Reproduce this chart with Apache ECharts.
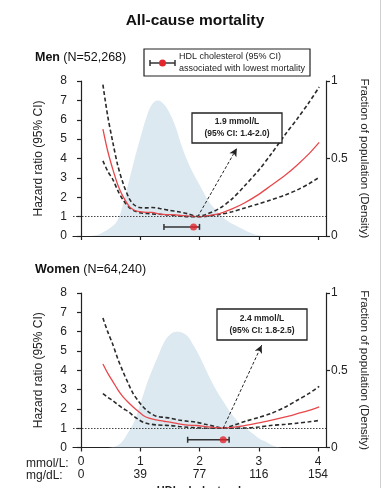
<!DOCTYPE html>
<html>
<head>
<meta charset="utf-8">
<script src="https://cdn.jsdelivr.net/npm/echarts@6/dist/echarts.min.js"></script>
<style>
html,body{margin:0;padding:0;background:#fff;}
#c{width:384px;height:488px;}
</style>
</head>
<body>
<div id="c"></div>
<script>
// ---------- DATA ----------
var mmolTicks = [0, 1, 2, 3, 4];
var mgTicks = ['0', '39', '77', '116', '154'];

// Men
var menX     = [0.37,0.45,0.54,0.62,0.71,0.82,0.9,0.99,1.1,1.2,1.33,1.5,1.65,1.8,1.95,2.1,2.35,2.55,2.75,3.0,3.2,3.45,3.65,3.85,4.02];
var menHR    = [5.52,4.4,3.41,2.65,2.03,1.5,1.33,1.26,1.22,1.22,1.13,1.10,1.07,1.03,1.0,1.03,1.17,1.40,1.69,2.15,2.59,3.15,3.67,4.25,4.83];
var menUpper = [7.81,6.2,4.79,3.65,2.72,1.9,1.6,1.47,1.45,1.47,1.42,1.32,1.25,1.15,1.02,1.10,1.45,1.92,2.55,3.4,4.19,5.25,6.05,6.9,7.69];
var menLower = [3.88,3.35,2.9,2.35,1.86,1.45,1.3,1.2,1.16,1.14,1.12,1.08,1.04,1.0,0.99,1.01,1.12,1.25,1.43,1.66,1.86,2.12,2.38,2.7,3.03];
var menDensX = [0.1,0.2,0.3,0.4,0.5,0.6,0.7,0.8,0.9,1.0,1.1,1.2,1.3,1.4,1.5,1.6,1.7,1.8,1.9,2.0,2.1,2.2,2.3,2.4,2.5,2.6,2.7,2.8,2.9,3.0,3.1];
var menDens  = [0,0.002,0.01,0.03,0.055,0.09,0.19,0.34,0.49,0.63,0.76,0.85,0.875,0.85,0.79,0.70,0.58,0.48,0.40,0.33,0.26,0.20,0.16,0.12,0.09,0.07,0.05,0.03,0.015,0.005,0];
var menOpt = 1.9, menCI = [1.4, 2.0], menDotY = 0.47;
var menArrow = [[1.97, 1.0], [2.63, 4.53]];

// Women
var womenX     = [0.37,0.45,0.54,0.62,0.71,0.8,0.88,0.97,1.05,1.15,1.27,1.4,1.5,1.65,1.8,1.95,2.1,2.25,2.4,2.6,2.8,3.0,3.2,3.45,3.65,3.85,4.02];
var womenHR    = [4.32,3.85,3.40,3.0,2.62,2.33,2.10,1.86,1.66,1.52,1.43,1.36,1.31,1.22,1.16,1.14,1.08,1.03,1.0,1.06,1.16,1.28,1.40,1.58,1.75,1.92,2.10];
var womenUpper = [6.70,6.0,5.31,4.6,3.92,3.3,2.79,2.4,2.10,1.82,1.62,1.56,1.52,1.42,1.36,1.31,1.2,1.1,1.0,1.18,1.38,1.56,1.75,2.1,2.45,2.8,3.17];
var womenLower = [2.79,2.6,2.42,2.22,2.02,1.86,1.65,1.45,1.31,1.22,1.17,1.15,1.14,1.09,1.05,1.02,1.0,1.0,1.0,1.0,1.01,1.06,1.14,1.2,1.26,1.33,1.40];
var womenDensX = [0.4,0.5,0.6,0.7,0.8,0.9,1.0,1.1,1.2,1.3,1.4,1.5,1.6,1.7,1.8,1.9,2.0,2.1,2.2,2.3,2.4,2.5,2.6,2.7,2.8,2.9,3.0,3.1,3.2,3.3,3.4];
var womenDens  = [0,0.002,0.01,0.04,0.10,0.17,0.28,0.40,0.50,0.59,0.68,0.73,0.75,0.745,0.72,0.66,0.59,0.51,0.43,0.36,0.30,0.24,0.19,0.15,0.12,0.09,0.06,0.04,0.02,0.005,0];
var womenOpt = 2.4, womenCI = [1.8, 2.5], womenDotY = 0.4;
var womenArrow = [[2.4, 1.0], [3.05, 5.3]];

// ---------- HELPERS ----------
function zip(xs, ys) { return xs.map(function (x, i) { return [x, ys[i]]; }); }
var FONT = '"Liberation Sans", Arial, sans-serif';
var INK = '#222';
var RED = '#e8474b';
var DENS = '#dce9f1';

function xAxisCfg(grid, showLabels) {
  return {
    type: 'value', gridIndex: grid, min: -0.135, max: 4.135,
    axisLine: { show: true, onZero: false, lineStyle: { color: INK, width: 1.2 } },
    axisTick: { show: true, length: 4, customValues: mmolTicks, lineStyle: { color: INK, width: 1.2 } },
    axisLabel: {
      show: showLabels, customValues: mmolTicks, margin: 8, color: INK, fontSize: 12, fontFamily: FONT, lineHeight: 12.5,
      formatter: function (v) { var i = mmolTicks.indexOf(v); return v + '\n' + mgTicks[i]; }
    },
    splitLine: { show: false }
  };
}
function yLeftCfg(grid) {
  return {
    type: 'value', gridIndex: grid, min: 0, max: 8, interval: 1,
    name: 'Hazard ratio (95% CI)', nameLocation: 'middle', nameGap: 28,
    nameTextStyle: { color: INK, fontSize: 12, fontFamily: FONT },
    axisLine: { show: true, lineStyle: { color: INK, width: 1.2 } },
    axisTick: { show: true, length: 4, lineStyle: { color: INK, width: 1.2 } },
    axisLabel: { margin: 6, color: INK, fontSize: 12, fontFamily: FONT },
    splitLine: { show: false }
  };
}
function yRightCfg(grid) {
  return {
    type: 'value', gridIndex: grid, min: 0, max: 1, interval: 0.5, position: 'right',
    name: 'Fraction of population (Density)', nameLocation: 'middle', nameGap: 27, nameRotate: -90,
    nameTextStyle: { color: INK, fontSize: 11.5, fontFamily: FONT },
    axisLine: { show: true, lineStyle: { color: INK, width: 1.2 } },
    axisTick: { show: true, length: 4, lineStyle: { color: INK, width: 1.2 } },
    axisLabel: { margin: 5, color: INK, fontSize: 12, fontFamily: FONT },
    splitLine: { show: false }
  };
}

function panelSeries(xi, yL, yR, cx, hr, up, lo, dx, dens, opt, ci, dotY, arrow) {
  return [
    { type: 'line', xAxisIndex: xi, yAxisIndex: yR, data: zip(dx, dens), smooth: 0.4, symbol: 'none',
      lineStyle: { width: 0 }, areaStyle: { color: DENS, opacity: 1 }, z: 1, silent: true },
    { type: 'line', xAxisIndex: xi, yAxisIndex: yL, data: zip(cx, up), smooth: 0.3, symbol: 'none',
      lineStyle: { color: '#2a2a2a', width: 1.6, type: [4, 2.5] }, z: 3 },
    { type: 'line', xAxisIndex: xi, yAxisIndex: yL, data: zip(cx, lo), smooth: 0.3, symbol: 'none',
      lineStyle: { color: '#2a2a2a', width: 1.6, type: [4, 2.5] }, z: 3 },
    { type: 'line', xAxisIndex: xi, yAxisIndex: yL, data: zip(cx, hr), smooth: 0.3, symbol: 'none',
      lineStyle: { color: RED, width: 1.3 }, z: 4,
      markLine: {
        silent: true, animation: false, label: { show: false },
        data: [
          [{ coord: [-0.135, 1], symbol: 'none' }, { coord: [4.135, 1], symbol: 'none', lineStyle: { color: '#444', width: 1, type: [1.5, 1.5] } }],
          [{ coord: arrow[0], symbol: 'none' }, { coord: arrow[1], symbol: 'arrow', symbolSize: [6, 8], lineStyle: { color: '#222', width: 1, type: [3, 2] } }]
        ]
      }
    },
    { type: 'custom', xAxisIndex: xi, yAxisIndex: yL, data: [[ci[0], ci[1], dotY]], z: 5,
      renderItem: function (params, api) {
        var p1 = api.coord([api.value(0), api.value(2)]);
        var p2 = api.coord([api.value(1), api.value(2)]);
        var st = { stroke: '#333', lineWidth: 1.5 };
        return { type: 'group', children: [
          { type: 'line', shape: { x1: p1[0], y1: p1[1], x2: p2[0], y2: p2[1] }, style: st },
          { type: 'line', shape: { x1: p1[0], y1: p1[1] - 3, x2: p1[0], y2: p1[1] + 3 }, style: st },
          { type: 'line', shape: { x1: p2[0], y1: p2[1] - 3, x2: p2[0], y2: p2[1] + 3 }, style: st }
        ]};
      }
    },
    { type: 'scatter', xAxisIndex: xi, yAxisIndex: yL, data: [[opt, dotY]], symbolSize: 7,
      itemStyle: { color: '#e3262d' }, z: 6 }
  ];
}

var chart = echarts.init(document.getElementById('c'), null, { renderer: 'canvas' });

function annBox(x, y, w, h, l1, l2) {
  return [
    { type: 'rect', shape: { x: x, y: y, width: w, height: h }, style: { fill: '#fff', stroke: '#222', lineWidth: 1.3 }, z: 10 },
    { type: 'text', x: x + w / 2, y: y + h / 2 - 6, style: { text: l1, fill: '#222', font: 'bold 8.5px ' + FONT, textAlign: 'center', textVerticalAlign: 'middle' }, z: 11 },
    { type: 'text', x: x + w / 2, y: y + h / 2 + 6, style: { text: l2, fill: '#222', font: 'bold 8.5px ' + FONT, textAlign: 'center', textVerticalAlign: 'middle' }, z: 11 }
  ];
}

var graphics = [
  { type: 'text', x: 195, y: 21, style: { text: 'All-cause mortality', fill: '#111', font: 'bold 15.5px ' + FONT, textAlign: 'center', textVerticalAlign: 'middle' } },
  { type: 'text', x: 35, y: 58, style: { text: '{b|Men} {n|(N=52,268)}', textVerticalAlign: 'middle',
      rich: { b: { fontWeight: 'bold', fontSize: 12.5, fontFamily: FONT, fill: '#111' }, n: { fontSize: 12.5, fontFamily: FONT, fill: '#111' } } } },
  { type: 'text', x: 35, y: 270, style: { text: '{b|Women} {n|(N=64,240)}', textVerticalAlign: 'middle',
      rich: { b: { fontWeight: 'bold', fontSize: 12.5, fontFamily: FONT, fill: '#111' }, n: { fontSize: 12.5, fontFamily: FONT, fill: '#111' } } } },
  // legend box
  { type: 'rect', shape: { x: 144, y: 49, width: 166, height: 27 }, style: { fill: '#fff', stroke: '#222', lineWidth: 1.2 }, z: 10 },
  { type: 'line', shape: { x1: 150, y1: 63, x2: 175, y2: 63 }, style: { stroke: '#333', lineWidth: 1.5 }, z: 11 },
  { type: 'line', shape: { x1: 150, y1: 60, x2: 150, y2: 66 }, style: { stroke: '#333', lineWidth: 1.5 }, z: 11 },
  { type: 'line', shape: { x1: 175, y1: 60, x2: 175, y2: 66 }, style: { stroke: '#333', lineWidth: 1.5 }, z: 11 },
  { type: 'circle', shape: { cx: 162.5, cy: 63, r: 3.5 }, style: { fill: '#e3262d' }, z: 12 },
  { type: 'text', x: 179, y: 57, style: { text: 'HDL cholesterol (95% CI)', fill: '#222', font: '9px ' + FONT, textVerticalAlign: 'middle' }, z: 11 },
  { type: 'text', x: 179, y: 69, style: { text: 'associated with lowest mortality', fill: '#222', font: '9px ' + FONT, textVerticalAlign: 'middle' }, z: 11 },
  // x label row prefixes
  { type: 'text', x: 26, y: 463.5, style: { text: 'mmol/L:', fill: INK, font: '12px ' + FONT, textVerticalAlign: 'middle' } },
  { type: 'text', x: 26, y: 476, style: { text: 'mg/dL:', fill: INK, font: '12px ' + FONT, textVerticalAlign: 'middle' } },
  { type: 'text', x: 199, y: 485, style: { text: 'HDL cholesterol', fill: INK, font: 'bold 11px ' + FONT, textAlign: 'center', textVerticalAlign: 'top' } },
  // right border of source image
  { type: 'line', shape: { x1: 380.5, y1: 0, x2: 380.5, y2: 488 }, style: { stroke: '#d0d0d0', lineWidth: 1 } }
].concat(annBox(192, 113, 90, 30, '1.9 mmol/L', '(95% CI: 1.4-2.0)'))
 .concat(annBox(217, 309, 90, 31, '2.4 mmol/L', '(95% CI: 1.8-2.5)'));

var option = {
  animation: false,
  backgroundColor: '#fff',
  grid: [
    { left: 73, top: 81, width: 253, height: 155 },
    { left: 73, top: 293, width: 253, height: 154.5 }
  ],
  xAxis: [xAxisCfg(0, false), xAxisCfg(1, true)],
  yAxis: [yLeftCfg(0), yRightCfg(0), yLeftCfg(1), yRightCfg(1)],
  series: []
    .concat(panelSeries(0, 0, 1, menX, menHR, menUpper, menLower, menDensX, menDens, menOpt, menCI, menDotY, menArrow))
    .concat(panelSeries(1, 2, 3, womenX, womenHR, womenUpper, womenLower, womenDensX, womenDens, womenOpt, womenCI, womenDotY, womenArrow)),
  graphic: graphics
};
chart.setOption(option);
</script>
</body>
</html>
